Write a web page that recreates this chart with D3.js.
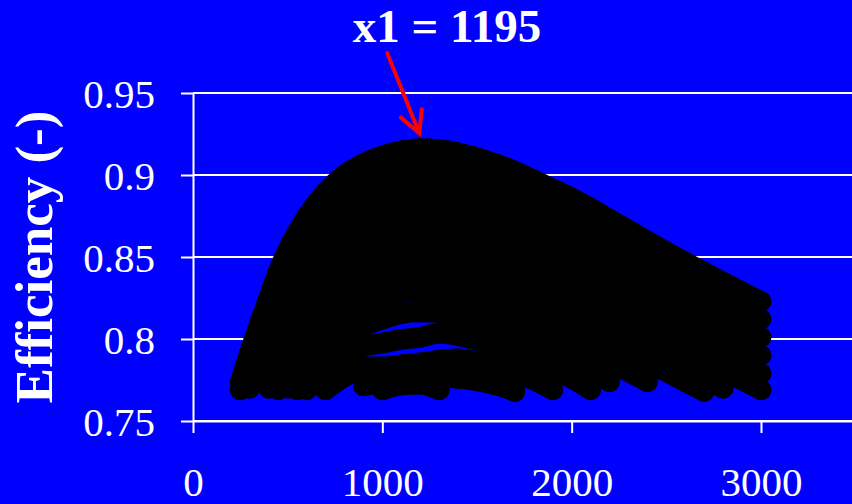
<!DOCTYPE html>
<html>
<head>
<meta charset="utf-8">
<script src="https://cdn.jsdelivr.net/npm/d3@7"></script>
<style>
  html, body { margin: 0; padding: 0; background: #0000ff; }
  svg { display: block; }
</style>
</head>
<body>
<svg id="chart" width="852" height="504"></svg>
<script>
// Shared x positions of the efficiency samples
const xGrid = [250, 300, 350, 400, 450, 500, 550, 600, 700, 800, 900, 1000, 1100, 1200, 1300,
  1400, 1500, 1600, 1700, 1800, 1900, 2000, 2100, 2200, 2300, 2400, 2500, 2600, 2700, 2800, 2900, 3000];

// Efficiency curves, highest first (null = no sample)
const effTop = [.774, .792, .809, .825, .841, .854, .865, .8745, .8895, .900, .907, .9117, .9147, .9162, .9155,
  .9135, .9105, .9068, .9023, .897, .8915, .886, .8797, .873, .8663, .8597, .8532, .8468, .8406, .8346, .8287, .8229];
const eff01 = [.769, .781, .797, .814, .830, .844, .855, .864, .879, .889, .896, .900, .904, .905, .904,
  .902, .899, .896, .891, .886, .880, .875, .868, .861, .854, .848, .842, .836, .830, .824, .818, .812];
const eff02 = [null, .770, .786, .802, .819, .833, .844, .853, .868, .878, .885, .889, .893, .894, .893,
  .891, .888, .885, .880, .875, .869, .864, .857, .850, .843, .837, .831, .825, .819, .813, .807, .801];
const eff03 = [null, null, .775, .791, .808, .822, .833, .842, .857, .867, .874, .878, .882, .883, .882,
  .880, .877, .874, .869, .864, .858, .853, .846, .839, .832, .826, .820, .814, .808, .802, .796, .790];
const eff04 = [null, null, null, .780, .797, .811, .822, .831, .846, .856, .863, .867, .871, .872, .871,
  .869, .866, .863, .858, .853, .847, .842, .835, .828, .821, .815, .809, .803, .797, .791, .785, .779];
const eff05 = [null, null, null, .770, .787, .801, .812, .821, .836, .846, .853, .857, .861, .862, .861,
  .859, .856, .853, .848, .843, .837, .832, .825, .818, .811, .805, .799, .793, .787, .781, .775, .769];
const eff06 = [null, null, null, null, .776, .790, .801, .810, .825, .835, .842, .846, .850, .851, .850,
  .848, .845, .842, .837, .832, .826, .821, .814, .807, .800, .794, .788, .782, .776, .770, null, null];
const eff07 = [null, null, null, null, .769, .782, .792, .801, .815, .825, .831, .835, .839, .840, .839,
  .837, .834, .831, .827, .822, .816, .811, .805, .798, .791, .786, .780, .774, .768, null, null, null];
const eff08 = [null, null, null, null, null, .770, .781, .789, .804, .813, .820, .824, .828, .829, .828,
  .826, .823, .820, .815, .811, .805, .800, .793, .786, .780, .774, null, null, null, null, null, null];
const eff09 = [null, null, null, null, null, null, .769, .777, .792, .801, .808, .812, .8155, .8165, .816,
  .814, .811, .808, .803, .799, .793, .788, .781, .774, null, null, null, null, null, null, null, null];
const eff10 = [null, null, null, null, null, null, null, .769, .780, .789, .7955, .7975, .7997, .801, .8035,
  .802, .799, .796, .791, .787, .781, .776, .769, null, null, null, null, null, null, null, null, null];
const eff11 = [null, null, null, null, null, null, null, null, .769, .777, .783, .783, .7842, .7855, .787,
  .788, .786, .784, .779, .775, .769, null, null, null, null, null, null, null, null, null, null, null];
const eff12 = [null, null, null, null, null, null, null, null, null, null, .7715, .7735, .775, .776, .7765,
  .776, .7745, .772, .768, null, null, null, null, null, null, null, null, null, null, null, null, null];
const eff13 = [null, null, null, null, null, null, null, null, null, null, null, .769, .772, .7725, .769,
  null, null, null, null, null, null, null, null, null, null, null, null, null, null, null, null, null];

const xTicks = [0, 1000, 2000, 3000];
const yTicks = [0.75, 0.8, 0.85, 0.9, 0.95];
const peakX = 1195;

const W = 852, H = 504;
const plotLeft = 193, plotTop = 93, plotBottom = 421;
const R = 10.3; // marker radius in px
const serif = "'Liberation Serif', 'Times New Roman', Times, serif";

const x = d3.scaleLinear().domain([0, 3500]).range([plotLeft, plotLeft + 3.5 * 189.33]);
const y = d3.scaleLinear().domain([0.75, 0.95]).range([plotBottom, plotTop]);

const svg = d3.select('#chart');
svg.append('rect').attr('width', W).attr('height', H).attr('fill', '#0000ff');

// horizontal gridlines
svg.append('g')
  .selectAll('line').data(yTicks).join('line')
  .attr('x1', plotLeft).attr('x2', W)
  .attr('y1', d => y(d)).attr('y2', d => y(d))
  .attr('stroke', '#fff').attr('stroke-width', 2);

// y axis
const yAxis = svg.append('g')
  .attr('transform', `translate(${plotLeft},0)`)
  .call(d3.axisLeft(y).tickValues(yTicks).tickSize(12).tickSizeOuter(0).tickPadding(26)
    .tickFormat(d => String(d)));
yAxis.selectAll('path, line').attr('stroke', '#fff').attr('stroke-width', 2);
yAxis.selectAll('text')
  .attr('fill', '#fff').attr('dy', '0.36em')
  .style('font-family', serif).style('font-size', '41px');

// x axis
const xAxis = svg.append('g')
  .attr('transform', `translate(0,${plotBottom})`)
  .call(d3.axisBottom(x).tickValues(xTicks).tickSize(12).tickSizeOuter(0)
    .tickFormat(d => String(d)));
xAxis.selectAll('path, line').attr('stroke', '#fff').attr('stroke-width', 2);
xAxis.selectAll('text')
  .attr('fill', '#fff').attr('y', 75).attr('dy', 0)
  .style('font-family', serif).style('font-size', '41px');

// efficiency curves: thick tubes with round markers at each sample
const curves = [effTop, eff01, eff02, eff03, eff04, eff05, eff06, eff07, eff08, eff09, eff10, eff11, eff12, eff13];
const line = d3.line()
  .defined(d => d[1] != null)
  .x(d => x(d[0])).y(d => y(d[1]))
  .curve(d3.curveMonotoneX);
const marks = svg.append('g');
curves.forEach(vals => {
  const pts = xGrid.map((xv, i) => [xv, vals[i]]);
  marks.append('path')
    .attr('d', line(pts))
    .attr('fill', 'none').attr('stroke', '#000')
    .attr('stroke-width', 2 * R)
    .attr('stroke-linecap', 'round').attr('stroke-linejoin', 'round');
  marks.append('g').selectAll('circle')
    .data(pts.filter(p => p[1] != null)).join('circle')
    .attr('cx', d => x(d[0])).attr('cy', d => y(d[1])).attr('r', R)
    .attr('fill', '#000');
});

// y axis title
svg.append('text')
  .attr('transform', `translate(52,${(plotTop + plotBottom) / 2}) rotate(-90)`)
  .attr('text-anchor', 'middle').attr('fill', '#fff')
  .style('font-family', serif).style('font-size', '53px').style('font-weight', 'bold')
  .text('Efficiency (-)');

// optimum annotation
const peakIdx = effTop.indexOf(d3.max(effTop));
const tipX = x(peakX), tipY = y(effTop[peakIdx]) - R - 5;
const startX = tipX - 32, startY = tipY - 80;
const ang = Math.atan2(startY - tipY, startX - tipX);
const arm = 24, spread = 28 * Math.PI / 180;
const arrow = svg.append('g').attr('stroke', '#ff0000').attr('stroke-width', 4)
  .attr('stroke-linecap', 'round').attr('fill', 'none');
arrow.append('line').attr('x1', startX).attr('y1', startY).attr('x2', tipX).attr('y2', tipY);
arrow.append('path').attr('d', d3.line()([
  [tipX + arm * Math.cos(ang - spread), tipY + arm * Math.sin(ang - spread)],
  [tipX, tipY],
  [tipX + arm * Math.cos(ang + spread), tipY + arm * Math.sin(ang + spread)]
])).attr('stroke-linejoin', 'miter');

svg.append('text')
  .attr('x', 447).attr('y', 42)
  .attr('text-anchor', 'middle').attr('fill', '#fff')
  .style('font-family', serif).style('font-size', '47px').style('font-weight', 'bold')
  .text(`x1 = ${peakX}`);
</script>
</body>
</html>
